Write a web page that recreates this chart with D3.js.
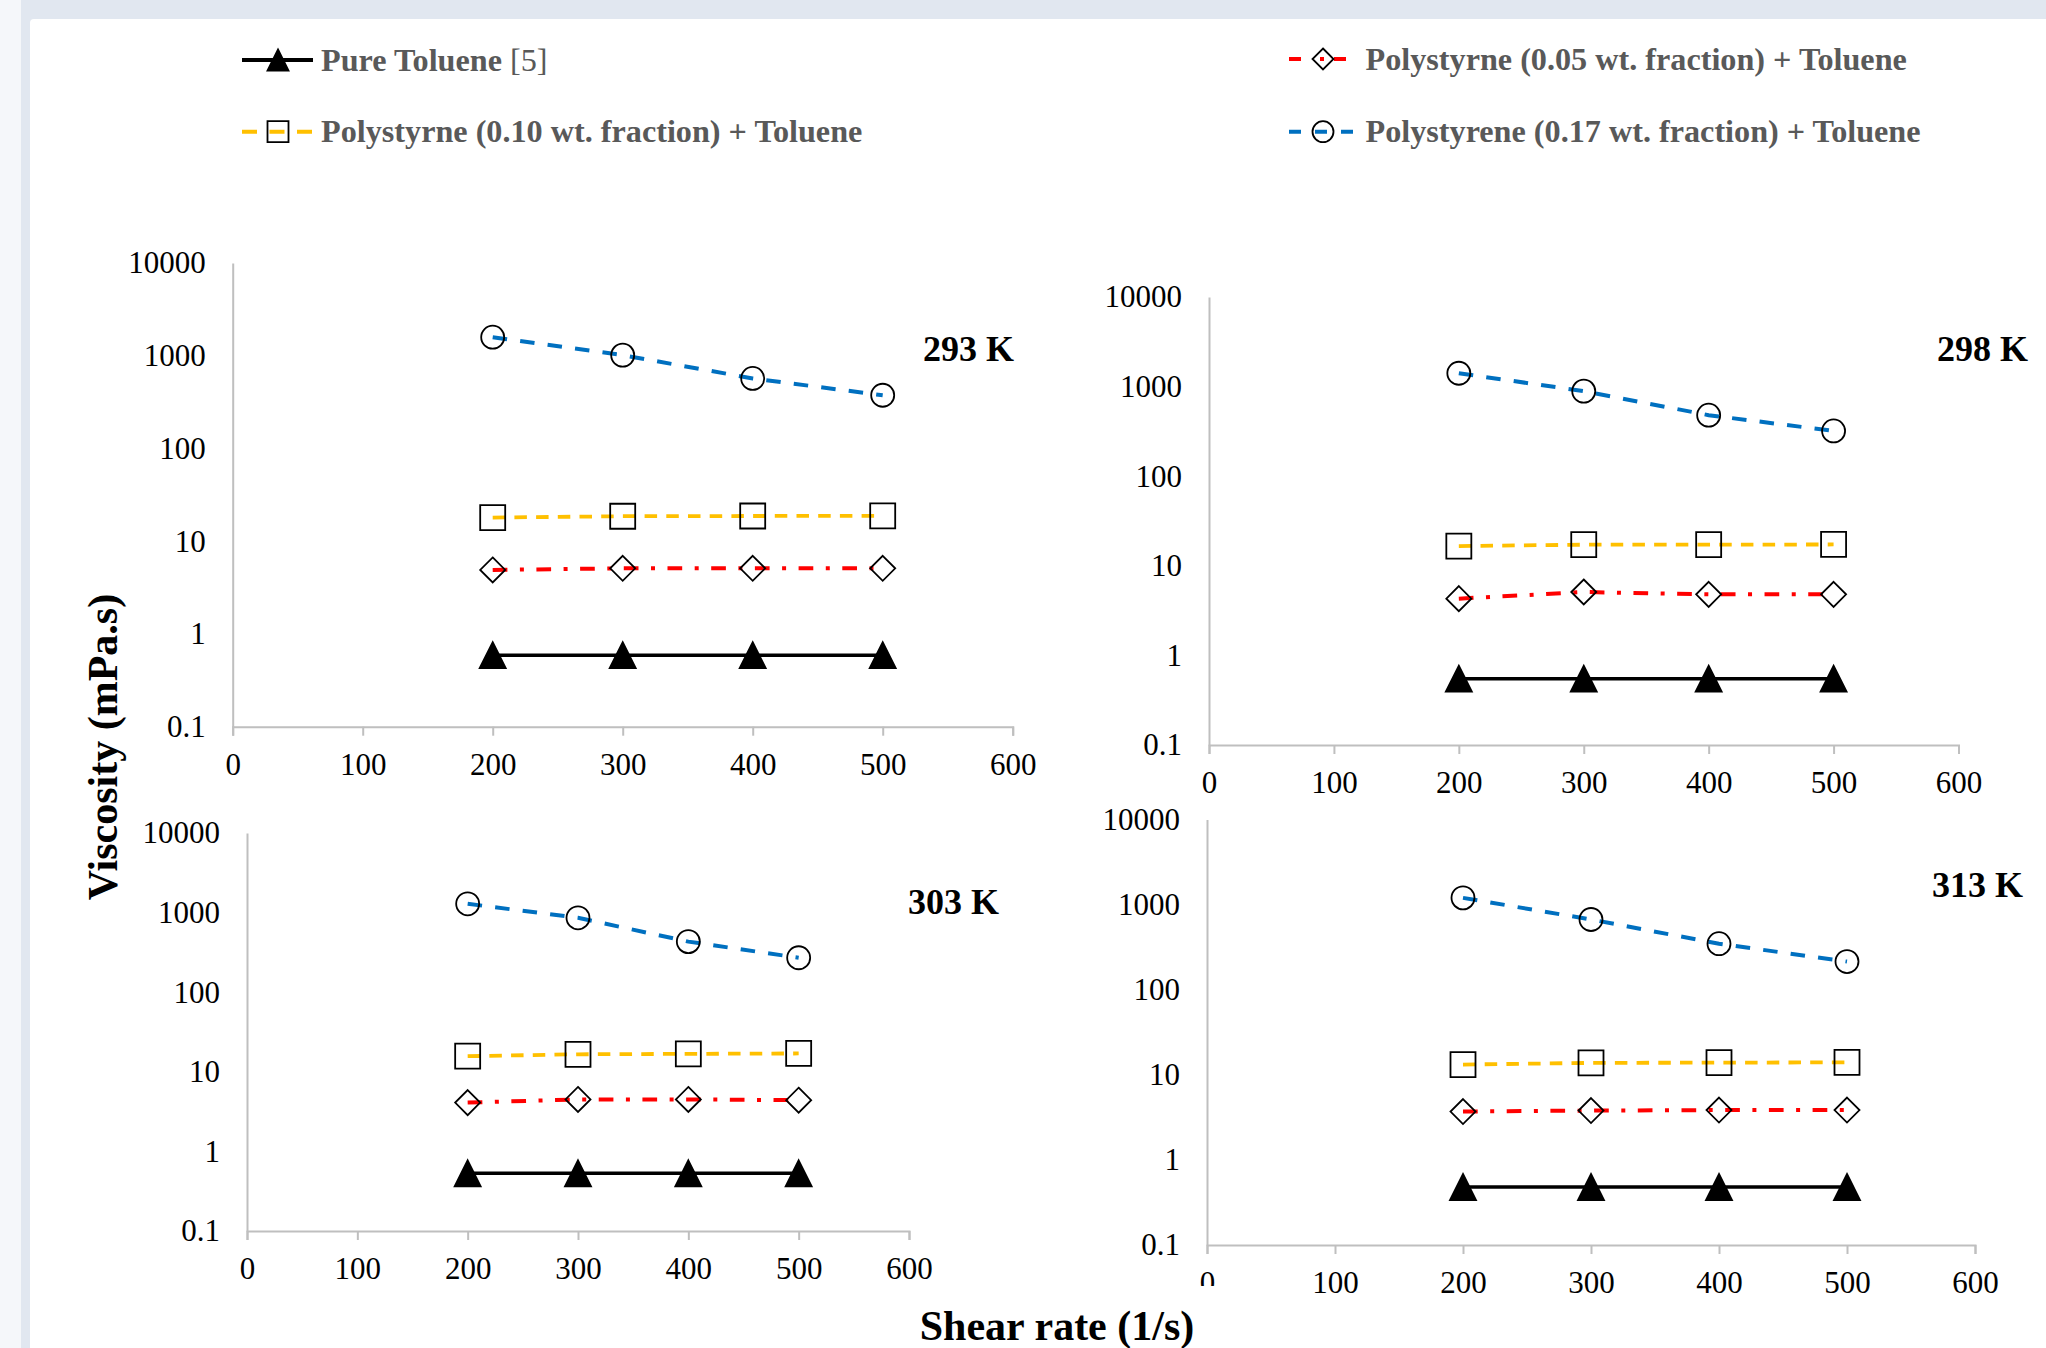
<!DOCTYPE html>
<html>
<head>
<meta charset="utf-8">
<script src="https://cdn.jsdelivr.net/npm/d3@7"></script>
<style>
  html, body { margin: 0; padding: 0; background: #f5f7fa; }
  svg { display: block; }
</style>
</head>
<body>
<svg id="chart" width="2046" height="1348"></svg>
<script>
// Shear rates (1/s) measured in every panel
const shearRates = [200, 300, 400, 500];

// Panel temperatures
const temperatures = ["293 K", "298 K", "303 K", "313 K"];

// Viscosity (mPa.s), one row per temperature
const pureToluene = [
  [0.59, 0.59, 0.59, 0.59],
  [0.55, 0.55, 0.55, 0.55],
  [0.53, 0.53, 0.53, 0.53],
  [0.48, 0.48, 0.48, 0.48]
];
const ps005 = [
  [4.9, 5.1, 5.1, 5.1],
  [4.3, 5.1, 4.8, 4.8],
  [4.1, 4.5, 4.5, 4.4],
  [3.7, 3.8, 3.85, 3.85]
];
const ps010 = [
  [18.0, 18.6, 18.7, 18.8],
  [16.6, 17.2, 17.2, 17.3],
  [15.7, 16.6, 16.8, 17.0],
  [13.2, 13.8, 13.9, 14.0]
];
const ps017 = [
  [1585, 1015, 569, 375],
  [1410, 890, 480, 320],
  [1290, 860, 432, 271],
  [1200, 668, 347, 214]
];

// Series names for the legend
const seriesNames = [
  "Pure Toluene",
  "Polystyrne (0.05 wt. fraction) + Toluene",
  "Polystyrne (0.10 wt. fraction) + Toluene",
  "Polystyrene (0.17 wt. fraction) + Toluene"
];

// Axis ticks
const xTicks = [0, 100, 200, 300, 400, 500, 600];
const yTicks = [0.1, 1, 10, 100, 1000, 10000];
const yTickLabels = ["0.1", "1", "10", "100", "1000", "10000"];

// ---------------------------------------------------------------------------
const svg = d3.select("#chart");
const SERIF = "'Liberation Serif', 'Times New Roman', serif";

// page background + white card
svg.append("rect").attr("x", 21).attr("y", 0).attr("width", 2025).attr("height", 1348).attr("fill", "#e1e7f0");
svg.append("rect").attr("x", 30).attr("y", 19).attr("width", 2030).attr("height", 1340).attr("rx", 4).attr("fill", "#ffffff");

// marker path generators (centred on 0,0)
const markers = {
  triangle: s => `M0,${-s / 2}L${s / 2},${s / 2}L${-s / 2},${s / 2}Z`,
  square: s => `M${-s / 2},${-s / 2}h${s}v${s}h${-s}Z`,
  diamond: s => `M0,${-s / 2}L${s / 2},0L0,${s / 2}L${-s / 2},0Z`,
  circle: s => `M${-s / 2},0a${s / 2},${s / 2} 0 1,0 ${s},0a${s / 2},${s / 2} 0 1,0 ${-s},0`
};

const series = [
  { name: seriesNames[0], values: pureToluene, color: "#000000", width: 3.5, dash: null, legendDash: null, marker: "triangle", fill: "#000000", size: 26 },
  { name: seriesNames[1], values: ps005, color: "#ff0000", width: 4, dash: "14.7,12.5,4,12.5", legendDash: "12,19,4,10", marker: "diamond", fill: "none", size: 25 },
  { name: seriesNames[2], values: ps010, color: "#ffc000", width: 3.8, dash: "12.5,9.2", legendDash: "15,12.5", marker: "square", fill: "none", size: 25 },
  { name: seriesNames[3], values: ps017, color: "#0070c0", width: 4, dash: "14.5,13.2", legendDash: "12,14", marker: "circle", fill: "none", size: 23 }
];

// panel frames
const panels = [
  { left: 232.7, right: 1012.7, top: 263, bottom: 726.7, lx: 1014, ly: 360.6 },
  { left: 1209, right: 1958.5, top: 297, bottom: 745, lx: 2028, ly: 360.7 },
  { left: 247, right: 909, top: 833, bottom: 1231, lx: 999, ly: 914 },
  { left: 1207, right: 1975, top: 819.5, bottom: 1245, lx: 2023, ly: 897 }
];

panels.forEach((p, pi) => {
  const x = d3.scaleLinear().domain([0, 600]).range([p.left, p.right]);
  const y = d3.scaleLog().domain([0.1, 10000]).range([p.bottom, p.top]);
  const g = svg.append("g");

  // x axis
  const gx = g.append("g")
    .attr("transform", `translate(0,${p.bottom})`)
    .call(d3.axisBottom(x).tickValues(xTicks).tickSizeInner(9).tickSizeOuter(9).tickPadding(17.2).tickFormat(d3.format("d")));
  gx.selectAll("path, line").attr("stroke", "#bfbfbf").attr("stroke-width", 2);
  gx.selectAll("text").attr("fill", "#000").attr("font-size", 31).attr("font-family", SERIF);

  // y axis
  const gy = g.append("g")
    .attr("transform", `translate(${p.left},0)`)
    .call(d3.axisLeft(y).tickValues(yTicks).tickSize(0).tickPadding(27)
      .tickFormat((d, i) => yTickLabels[i]));
  gy.selectAll("path").attr("stroke", "#bfbfbf").attr("stroke-width", 2);
  gy.selectAll("text").attr("fill", "#000").attr("font-size", 31).attr("font-family", SERIF);

  // series lines, then markers
  series.forEach(s => {
    const pts = shearRates.map((r, i) => [r, s.values[pi][i]]);
    const line = d3.line().x(d => x(d[0])).y(d => y(d[1]));
    g.append("path")
      .attr("d", line(pts))
      .attr("fill", "none")
      .attr("stroke", s.color)
      .attr("stroke-width", s.width)
      .attr("stroke-dasharray", s.dash);
  });
  series.forEach(s => {
    const pts = shearRates.map((r, i) => [r, s.values[pi][i]]);
    g.selectAll(null).data(pts).join("path")
      .attr("transform", d => `translate(${x(d[0])},${y(d[1])})`)
      .attr("d", markers[s.marker](s.size))
      .attr("fill", s.fill)
      .attr("stroke", "#000")
      .attr("stroke-width", 1.8);
  });

  // temperature label
  g.append("text")
    .attr("x", p.lx).attr("y", p.ly)
    .attr("text-anchor", "end")
    .attr("font-family", SERIF).attr("font-weight", "bold").attr("font-size", 36)
    .attr("fill", "#000")
    .text(temperatures[pi]);
});

// legend
const legendItems = [
  { s: series[0], x0: 242, x1: 313, mx: 278, tx: 321, y: 60, suffix: " [5]" },
  { s: series[1], x0: 1289, x1: 1356, mx: 1323, tx: 1365.5, y: 59 },
  { s: series[2], x0: 242, x1: 313, mx: 278, tx: 321, y: 131.7 },
  { s: series[3], x0: 1289, x1: 1356, mx: 1323, tx: 1365.5, y: 131.7 }
];
const lg = svg.append("g");
legendItems.forEach(it => {
  lg.append("line")
    .attr("x1", it.x0).attr("x2", it.x1).attr("y1", it.y).attr("y2", it.y)
    .attr("stroke", it.s.color).attr("stroke-width", 4)
    .attr("stroke-dasharray", it.s.legendDash);
  lg.append("path")
    .attr("transform", `translate(${it.mx},${it.y})`)
    .attr("d", markers[it.s.marker](21))
    .attr("fill", it.s.fill)
    .attr("stroke", "#000").attr("stroke-width", 1.8);
  const t = lg.append("text")
    .attr("x", it.tx).attr("y", it.y + 10.5)
    .attr("font-family", SERIF).attr("font-size", 32.2).attr("fill", "#595959");
  t.append("tspan").attr("font-weight", "bold").text(it.s.name);
  if (it.suffix) t.append("tspan").attr("font-weight", "normal").text(it.suffix);
});

// axis titles
svg.append("rect").attr("x", 905).attr("y", 1286).attr("width", 311).attr("height", 62).attr("fill", "#ffffff");
svg.append("text")
  .attr("x", 1057).attr("y", 1340)
  .attr("text-anchor", "middle")
  .attr("font-family", SERIF).attr("font-weight", "bold").attr("font-size", 42)
  .attr("fill", "#000")
  .text("Shear rate (1/s)");
svg.append("text")
  .attr("transform", "translate(117,747) rotate(-90)")
  .attr("text-anchor", "middle")
  .attr("font-family", SERIF).attr("font-weight", "bold").attr("font-size", 42)
  .attr("fill", "#000")
  .text("Viscosity (mPa.s)");
</script>
</body>
</html>
